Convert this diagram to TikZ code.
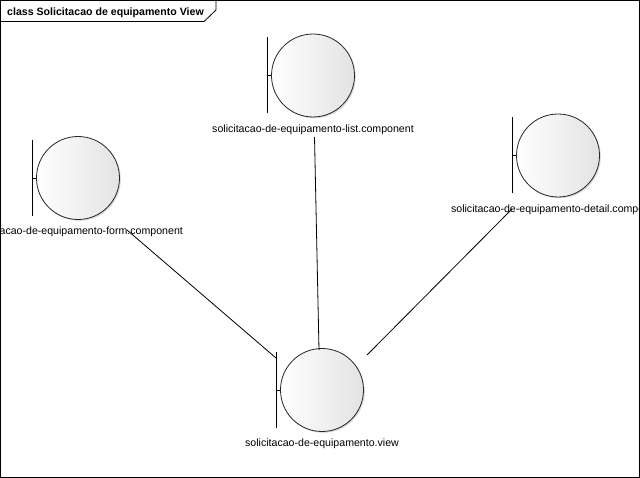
\documentclass[tikz,border=0pt]{standalone}
\usepackage{fontspec}
\setmainfont{Liberation Sans}
\usetikzlibrary{calc,shadows}
\begin{document}
\begin{tikzpicture}[x=1pt,y=-1pt,
  frameline/.style={draw=black,line width=0.8pt},
  boundary/.style={circle,draw=black!85,line width=0.8pt,minimum size=83pt,inner sep=0pt,
    left color=white,right color=black!11,
    drop shadow={shadow xshift=1.3pt,shadow yshift=-1.3pt,opacity=0.25,fill=black!60}},
  barline/.style={draw=black,line width=0.9pt},
  elabel/.style={anchor=base,inner sep=0pt,font=\fontsize{10.6}{12}\selectfont},
  link/.style={draw=black,line width=0.8pt},
  titletext/.style={anchor=base west,inner sep=0pt,font=\fontsize{10.6}{12}\selectfont\bfseries}]

\useasboundingbox (0,0) rectangle (640,478);
\fill[white] (0,0) rectangle (640,478);
\clip (0,0) rectangle (640,478);

% diagram frame and its title tab
\draw[frameline] (0.5,0.5) rectangle (639.5,477.5);
\draw[frameline] (0.5,21.5) -- (204,21.5) -- (216,10) -- (216,0.5);
\node[titletext] (title) at (7,15.5) {class Solicitacao de equipamento View};

% boundary elements: circle, left bar, and the tick joining them
\newcommand{\boundaryel}[4]{%
  \node[boundary] (#1) at (#2,#3) {};
  \draw[barline] ([xshift=-4pt,yshift=38pt]#1.west) -- ([xshift=-4pt,yshift=-38pt]#1.west);
  \draw[barline] ([xshift=-4pt]#1.west) -- (#1.west);
  \node[elabel] (#1lbl) at ([yshift=-15pt]#1.south) {#4};
}

\boundaryel{form}{78}{178}{solicitacao-de-equipamento-form.component}
\boundaryel{list}{313}{75.5}{solicitacao-de-equipamento-list.component}
\boundaryel{detail}{558}{155.5}{solicitacao-de-equipamento-detail.component}
\boundaryel{view}{322}{390}{solicitacao-de-equipamento.view}

% associations to the view
\draw[link] ($(form)+(49,52)$) -- ($(view)+(-46,-32)$);
\draw[link] ($(list)+(1.5,61.5)$) -- ($(view)+(-3,-40)$);
\draw[link] ($(detail)+(-46,53.5)$) -- ($(view)+(45,-35)$);
\end{tikzpicture}
\end{document}
